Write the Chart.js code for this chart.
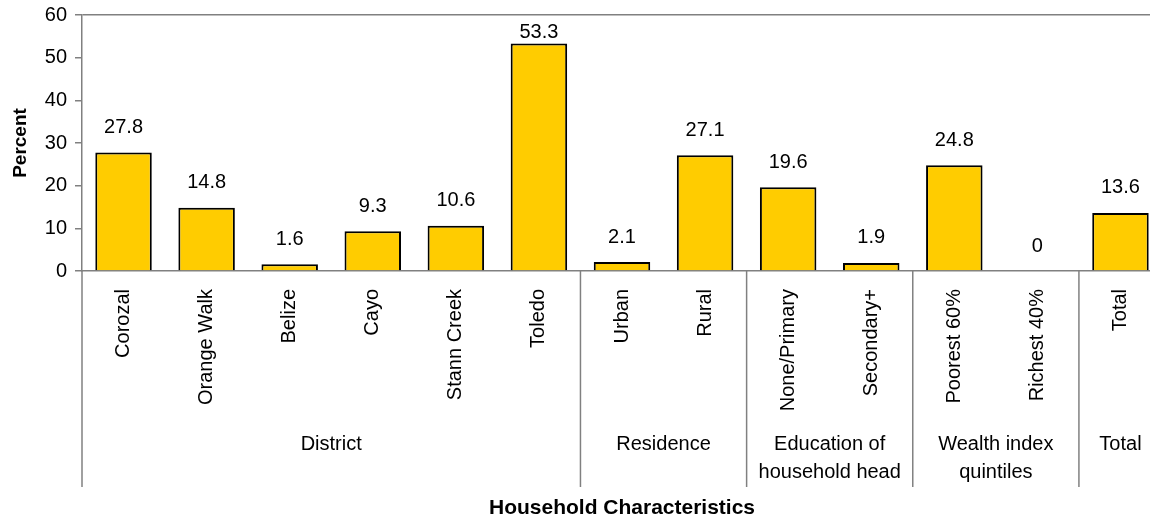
<!DOCTYPE html>
<html>
<head>
<meta charset="utf-8">
<script src="https://cdn.jsdelivr.net/npm/chart.js@4/dist/chart.umd.min.js"></script>
<style>
  body { margin: 0; background: #fff; overflow: hidden; }
  #wrap { width: 1162px; height: 522px; }
</style>
</head>
<body>
<div id="wrap"><canvas id="chart"></canvas></div>
<script>
// data
const categories = ["Corozal", "Orange Walk", "Belize", "Cayo", "Stann Creek", "Toledo",
  "Urban", "Rural", "None/Primary", "Secondary+", "Poorest 60%", "Richest 40%", "Total"];
const percentValues = [27.8, 14.8, 1.6, 9.3, 10.6, 53.3, 2.1, 27.1, 19.6, 1.9, 24.8, 0, 13.6];
const groupNames = [["District"], ["Residence"], ["Education of", "household head"],
  ["Wealth index", "quintiles"], ["Total"]];
const groupSizes = [6, 2, 2, 2, 1];
const yTicks = [0, 10, 20, 30, 40, 50, 60];

const FONT = "'Liberation Sans', Arial, sans-serif";
const lineGray = "#808080";

// value labels above the bars
const valueLabels = {
  id: "valueLabels",
  afterDatasetsDraw(chart) {
    const ctx = chart.ctx;
    const meta = chart.getDatasetMeta(0);
    ctx.save();
    ctx.font = "20px " + FONT;
    ctx.fillStyle = "#000";
    ctx.textAlign = "center";
    ctx.textBaseline = "middle";
    meta.data.forEach((bar, i) => {
      const y = Math.max(bar.y - 25, chart.chartArea.top + 17);
      ctx.fillText(String(percentValues[i]), bar.x, y);
    });
    ctx.restore();
  },
};

// group separators and group names under the category labels
const groupAxis = {
  id: "groupAxis",
  afterDraw(chart) {
    const ctx = chart.ctx;
    const x = chart.scales.x;
    const bottom = chart.chartArea.bottom;
    const half = (x.getPixelForValue(1) - x.getPixelForValue(0)) / 2;
    ctx.save();
    ctx.strokeStyle = lineGray;
    ctx.lineWidth = 1.5;
    ctx.font = "20px " + FONT;
    ctx.fillStyle = "#000";
    ctx.textAlign = "center";
    ctx.textBaseline = "middle";
    let start = 0;
    groupSizes.forEach((n, g) => {
      const left = x.getPixelForValue(start) - half;
      const right = x.getPixelForValue(start + n - 1) + half;
      ctx.beginPath();
      ctx.moveTo(left, bottom);
      ctx.lineTo(left, bottom + 216);
      ctx.stroke();
      groupNames[g].forEach((line, k) => {
        ctx.fillText(line, (left + right) / 2, bottom + 173 + k * 28);
      });
      start += n;
    });
    ctx.restore();
  },
};

new Chart(document.getElementById("chart"), {
  type: "bar",
  data: {
    labels: categories,
    datasets: [{
      data: percentValues,
      backgroundColor: "#FFCC00",
      borderColor: "#000",
      borderWidth: 2,
      categoryPercentage: 1,
      barPercentage: 0.68,
    }],
  },
  options: {
    responsive: true,
    maintainAspectRatio: false,
    animation: false,
    layout: { padding: { top: 15, right: 0, left: 0, bottom: 0 } },
    plugins: { legend: { display: false }, tooltip: { enabled: false } },
    scales: {
      x: {
        grid: { display: false },
        border: { display: true, color: lineGray, width: 1.5 },
        ticks: {
          autoSkip: false,
          minRotation: 90,
          maxRotation: 90,
          padding: 10,
          color: "#000",
          font: { family: FONT, size: 20 },
        },
        title: {
          display: true,
          text: "Household Characteristics",
          color: "#000",
          font: { family: FONT, size: 21, weight: "bold" },
          padding: { top: 0, bottom: 1 },
        },
        afterFit(scale) {
          scale.height = 251;
          scale.paddingLeft = 0;
          scale.paddingRight = 0;
        },
      },
      y: {
        min: 0,
        max: 60,
        afterBuildTicks(scale) { scale.ticks = yTicks.map((v) => ({ value: v })); },
        grid: {
          color: (c) => (c.tick && c.tick.value === 60 ? lineGray : "rgba(0,0,0,0)"),
          tickColor: lineGray,
          tickLength: 7,
          lineWidth: 1.5,
        },
        border: { display: true, color: lineGray, width: 1.5 },
        ticks: {
          padding: 8,
          color: "#000",
          font: { family: FONT, size: 20 },
        },
        title: {
          display: true,
          text: "Percent",
          color: "#000",
          font: { family: FONT, size: 19, weight: "bold" },
          padding: { top: 9, bottom: 0 },
        },
        afterFit(scale) {
          scale.width = 82;
          scale.paddingTop = 0;
          scale.paddingBottom = 0;
        },
      },
    },
  },
  plugins: [valueLabels, groupAxis],
});
</script>
</body>
</html>
